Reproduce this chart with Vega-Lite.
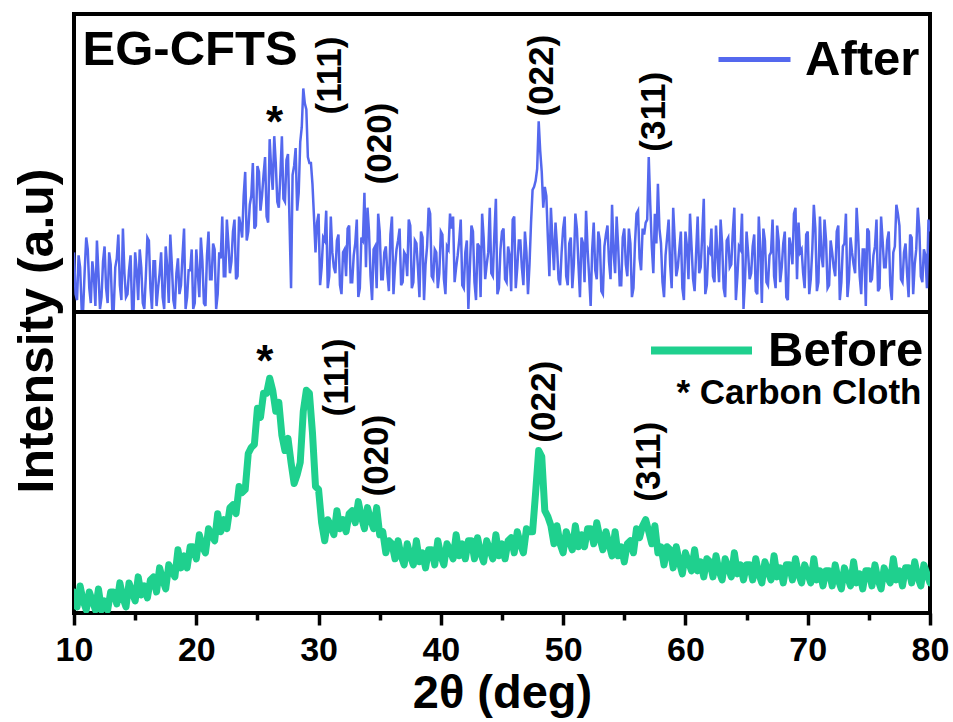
{
"$schema": "https://vega.github.io/schema/vega-lite/v6.json",
"background": "white",
"padding": {"left": 9, "top": 12, "right": 5, "bottom": 2},
"config": {"view": {"stroke": "black", "strokeWidth": 4}, "font": "Liberation Sans", "concat": {"spacing": 0}},
"spacing": 0,
"bounds": "flush",
"datasets": {
"xrd": [
{"t":10,"a":20,"b":7},{"t":10.25,"a":4,"b":2},{"t":10.5,"a":15,"b":9},{"t":10.75,"a":1,"b":4},{"t":11,"a":25,"b":1},{"t":11.25,"a":8,"b":7},{"t":11.5,"a":17,"b":4},{"t":11.75,"a":2,"b":1},{"t":12,"a":13,"b":8},{"t":12.25,"a":5,"b":1},
{"t":12.5,"a":22,"b":4},{"t":12.75,"a":3,"b":1},{"t":13,"a":16,"b":7},{"t":13.25,"a":1,"b":7},{"t":13.5,"a":18,"b":3},{"t":13.75,"a":9,"b":10},{"t":14,"a":28,"b":5},{"t":14.25,"a":5,"b":2},{"t":14.5,"a":14,"b":10},{"t":14.75,"a":1,"b":7},
{"t":15,"a":20,"b":4},{"t":15.25,"a":4,"b":12},{"t":15.5,"a":15,"b":6},{"t":15.75,"a":1,"b":9},{"t":16,"a":25,"b":5},{"t":16.25,"a":8,"b":11},{"t":16.5,"a":17,"b":12},{"t":16.75,"a":2,"b":7},{"t":17,"a":13,"b":15},{"t":17.25,"a":5,"b":11},
{"t":17.5,"a":22,"b":8},{"t":17.75,"a":3,"b":16},{"t":18,"a":16,"b":14},{"t":18.25,"a":1,"b":12},{"t":18.5,"a":18,"b":21},{"t":18.75,"a":9,"b":15},{"t":19,"a":28,"b":19},{"t":19.25,"a":5,"b":15},{"t":19.5,"a":14,"b":22},{"t":19.75,"a":1,"b":22},
{"t":20,"a":21,"b":18},{"t":20.25,"a":5,"b":26},{"t":20.5,"a":17,"b":22},{"t":20.75,"a":2,"b":20},{"t":21,"a":27,"b":28},{"t":21.25,"a":11,"b":26},{"t":21.5,"a":21,"b":24},{"t":21.75,"a":6,"b":33},{"t":22,"a":18,"b":27},{"t":22.25,"a":12,"b":31},
{"t":22.5,"a":31,"b":28},{"t":22.75,"a":13,"b":35},{"t":23,"a":27,"b":36},{"t":23.25,"a":11,"b":33},{"t":23.5,"a":32,"b":42},{"t":23.75,"a":25,"b":40},{"t":24,"a":47,"b":41},{"t":24.25,"a":27,"b":53},{"t":24.5,"a":39,"b":55},{"t":24.75,"a":28,"b":56},
{"t":25,"a":49,"b":68},{"t":25.25,"a":34,"b":65},{"t":25.5,"a":46,"b":73},{"t":25.75,"a":32,"b":73},{"t":26,"a":58,"b":78},{"t":26.25,"a":41,"b":74},{"t":26.5,"a":50,"b":67},{"t":26.75,"a":35,"b":70},{"t":27,"a":59,"b":59},{"t":27.25,"a":37,"b":54},
{"t":27.5,"a":53,"b":58},{"t":27.75,"a":8,"b":50},{"t":28,"a":49,"b":43},{"t":28.25,"a":34,"b":46},{"t":28.5,"a":57,"b":50},{"t":28.75,"a":75,"b":67},{"t":29,"a":68,"b":74},{"t":29.25,"a":50,"b":73},{"t":29.5,"a":43,"b":60},{"t":29.75,"a":20,"b":42},
{"t":30,"a":33,"b":41},{"t":30.25,"a":15,"b":30},{"t":30.5,"a":24,"b":24},{"t":30.75,"a":8,"b":31},{"t":31,"a":32,"b":29},{"t":31.25,"a":15,"b":26},{"t":31.5,"a":24,"b":34},{"t":31.75,"a":9,"b":28},{"t":32,"a":20,"b":31},{"t":32.25,"a":12,"b":27},
{"t":32.5,"a":29,"b":33},{"t":32.75,"a":10,"b":34},{"t":33,"a":23,"b":30},{"t":33.25,"a":5,"b":37},{"t":33.5,"a":25,"b":32},{"t":33.75,"a":40,"b":28},{"t":34,"a":35,"b":35},{"t":34.25,"a":12,"b":31},{"t":34.5,"a":21,"b":28},{"t":34.75,"a":8,"b":35},
{"t":35,"a":27,"b":26},{"t":35.25,"a":11,"b":27},{"t":35.5,"a":22,"b":20},{"t":35.75,"a":7,"b":24},{"t":36,"a":32,"b":23},{"t":36.25,"a":15,"b":18},{"t":36.5,"a":24,"b":24},{"t":36.75,"a":9,"b":19},{"t":37,"a":20,"b":16},{"t":37.25,"a":12,"b":23},
{"t":37.5,"a":29,"b":19},{"t":37.75,"a":10,"b":16},{"t":38,"a":23,"b":24},{"t":38.25,"a":5,"b":17},{"t":38.5,"a":25,"b":20},{"t":38.75,"a":16,"b":15},{"t":39,"a":35,"b":21},{"t":39.25,"a":12,"b":21},{"t":39.5,"a":21,"b":16},{"t":39.75,"a":8,"b":24},
{"t":40,"a":27,"b":19},{"t":40.25,"a":11,"b":16},{"t":40.5,"a":22,"b":23},{"t":40.75,"a":33,"b":21},{"t":41,"a":32,"b":18},{"t":41.25,"a":15,"b":26},{"t":41.5,"a":24,"b":19},{"t":41.75,"a":9,"b":23},{"t":42,"a":20,"b":18},{"t":42.25,"a":1,"b":24},
{"t":42.5,"a":29,"b":24},{"t":42.75,"a":10,"b":18},{"t":43,"a":23,"b":25},{"t":43.25,"a":5,"b":20},{"t":43.5,"a":25,"b":17},{"t":43.75,"a":16,"b":24},{"t":44,"a":35,"b":21},{"t":44.25,"a":12,"b":18},{"t":44.5,"a":38,"b":26},{"t":44.75,"a":8,"b":19},
{"t":45,"a":27,"b":23},{"t":45.25,"a":11,"b":18},{"t":45.5,"a":22,"b":24},{"t":45.75,"a":7,"b":25},{"t":46,"a":32,"b":20},{"t":46.25,"a":15,"b":27},{"t":46.5,"a":24,"b":23},{"t":46.75,"a":9,"b":20},{"t":47,"a":20,"b":28},{"t":47.25,"a":16,"b":27},
{"t":47.5,"a":41,"b":27},{"t":47.75,"a":44,"b":40},{"t":48,"a":64,"b":54},{"t":48.25,"a":47,"b":52},{"t":48.5,"a":42,"b":34},{"t":48.75,"a":25,"b":32},{"t":49,"a":35,"b":29},{"t":49.25,"a":14,"b":23},{"t":49.5,"a":22,"b":29},{"t":49.75,"a":9,"b":23},
{"t":50,"a":28,"b":20},{"t":50.25,"a":12,"b":27},{"t":50.5,"a":23,"b":24},{"t":50.75,"a":8,"b":21},{"t":51,"a":33,"b":29},{"t":51.25,"a":16,"b":22},{"t":51.5,"a":25,"b":26},{"t":51.75,"a":10,"b":22},{"t":52,"a":21,"b":28},{"t":52.25,"a":2,"b":28},
{"t":52.5,"a":30,"b":23},{"t":52.75,"a":11,"b":30},{"t":53,"a":24,"b":25},{"t":53.25,"a":6,"b":21},{"t":53.5,"a":26,"b":27},{"t":53.75,"a":17,"b":23},{"t":54,"a":36,"b":19},{"t":54.25,"a":13,"b":27},{"t":54.5,"a":22,"b":19},{"t":54.75,"a":9,"b":22},
{"t":55,"a":28,"b":17},{"t":55.25,"a":12,"b":23},{"t":55.5,"a":23,"b":24},{"t":55.75,"a":8,"b":20},{"t":56,"a":33,"b":28},{"t":56.25,"a":18,"b":25},{"t":56.5,"a":28,"b":29},{"t":56.75,"a":30,"b":31},{"t":57,"a":52,"b":27},{"t":57.25,"a":22,"b":23},
{"t":57.5,"a":33,"b":29},{"t":57.75,"a":43,"b":20},{"t":58,"a":23,"b":22},{"t":58.25,"a":5,"b":16},{"t":58.5,"a":25,"b":22},{"t":58.75,"a":16,"b":21},{"t":59,"a":35,"b":15},{"t":59.25,"a":12,"b":22},{"t":59.5,"a":21,"b":17},{"t":59.75,"a":8,"b":13},
{"t":60,"a":27,"b":20},{"t":60.25,"a":11,"b":17},{"t":60.5,"a":22,"b":14},{"t":60.75,"a":7,"b":21},{"t":61,"a":32,"b":14},{"t":61.25,"a":15,"b":17},{"t":61.5,"a":38,"b":12},{"t":61.75,"a":9,"b":18},{"t":62,"a":20,"b":17},{"t":62.25,"a":12,"b":12},
{"t":62.5,"a":29,"b":19},{"t":62.75,"a":10,"b":14},{"t":63,"a":23,"b":11},{"t":63.25,"a":5,"b":18},{"t":63.5,"a":25,"b":15},{"t":63.75,"a":16,"b":12},{"t":64,"a":35,"b":20},{"t":64.25,"a":12,"b":13},{"t":64.5,"a":21,"b":16},{"t":64.75,"a":1,"b":11},
{"t":65,"a":27,"b":16},{"t":65.25,"a":11,"b":16},{"t":65.5,"a":22,"b":11},{"t":65.75,"a":7,"b":18},{"t":66,"a":32,"b":13},{"t":66.25,"a":3,"b":10},{"t":66.5,"a":24,"b":17},{"t":66.75,"a":9,"b":14},{"t":67,"a":20,"b":11},{"t":67.25,"a":12,"b":19},
{"t":67.5,"a":29,"b":12},{"t":67.75,"a":10,"b":15},{"t":68,"a":23,"b":10},{"t":68.25,"a":5,"b":16},{"t":68.5,"a":25,"b":16},{"t":68.75,"a":16,"b":11},{"t":69,"a":35,"b":18},{"t":69.25,"a":30,"b":13},{"t":69.5,"a":21,"b":10},{"t":69.75,"a":8,"b":16},
{"t":70,"a":27,"b":13},{"t":70.25,"a":11,"b":10},{"t":70.5,"a":36,"b":18},{"t":70.75,"a":7,"b":11},{"t":71,"a":32,"b":14},{"t":71.25,"a":15,"b":9},{"t":71.5,"a":24,"b":14},{"t":71.75,"a":9,"b":14},{"t":72,"a":20,"b":9},{"t":72.25,"a":12,"b":16},
{"t":72.5,"a":29,"b":11},{"t":72.75,"a":10,"b":8},{"t":73,"a":23,"b":15},{"t":73.25,"a":5,"b":12},{"t":73.5,"a":25,"b":9},{"t":73.75,"a":16,"b":17},{"t":74,"a":35,"b":10},{"t":74.25,"a":12,"b":13},{"t":74.5,"a":21,"b":8},{"t":74.75,"a":2,"b":14},
{"t":75,"a":27,"b":14},{"t":75.25,"a":11,"b":9},{"t":75.5,"a":22,"b":16},{"t":75.75,"a":7,"b":11},{"t":76,"a":32,"b":8},{"t":76.25,"a":15,"b":15},{"t":76.5,"a":24,"b":12},{"t":76.75,"a":9,"b":10},{"t":77,"a":20,"b":18},{"t":77.25,"a":36,"b":11},
{"t":77.5,"a":29,"b":14},{"t":77.75,"a":10,"b":9},{"t":78,"a":23,"b":15},{"t":78.25,"a":5,"b":15},{"t":78.5,"a":25,"b":10},{"t":78.75,"a":16,"b":17},{"t":79,"a":35,"b":12},{"t":79.25,"a":12,"b":9},{"t":79.5,"a":21,"b":16},{"t":79.75,"a":8,"b":13},
{"t":80,"a":27,"b":10},
{"t":10.125,"a":6},{"t":10.375,"a":19},{"t":10.625,"a":1},{"t":10.875,"a":14},{"t":11.125,"a":21},{"t":11.375,"a":3},{"t":11.625,"a":12},{"t":11.875,"a":24},{"t":12.125,"a":1},{"t":12.375,"a":17},
{"t":12.625,"a":8},{"t":12.875,"a":20},{"t":13.125,"a":1},{"t":13.375,"a":15},{"t":13.625,"a":26},{"t":13.875,"a":4},{"t":14.125,"a":13},{"t":14.375,"a":6},{"t":14.625,"a":19},{"t":14.875,"a":1},
{"t":15.125,"a":14},{"t":15.375,"a":21},{"t":15.625,"a":3},{"t":15.875,"a":12},{"t":16.125,"a":24},{"t":16.375,"a":1},{"t":16.625,"a":17},{"t":16.875,"a":8},{"t":17.125,"a":20},{"t":17.375,"a":1},
{"t":17.625,"a":15},{"t":17.875,"a":26},{"t":18.125,"a":4},{"t":18.375,"a":13},{"t":18.625,"a":6},{"t":18.875,"a":19},{"t":19.125,"a":1},{"t":19.375,"a":14},{"t":19.625,"a":21},{"t":19.875,"a":3},
{"t":20.125,"a":13},{"t":20.375,"a":25},{"t":20.625,"a":3},{"t":20.875,"a":19},{"t":21.125,"a":11},{"t":21.375,"a":23},{"t":21.625,"a":1},{"t":21.875,"a":20},{"t":22.125,"a":32},{"t":22.375,"a":12},
{"t":22.625,"a":23},{"t":22.875,"a":17},{"t":23.125,"a":31},{"t":23.375,"a":12},{"t":23.625,"a":29},{"t":23.875,"a":39},{"t":24.125,"a":24},{"t":24.375,"a":36},{"t":24.625,"a":50},{"t":24.875,"a":29},
{"t":25.125,"a":47},{"t":25.375,"a":39},{"t":25.625,"a":52},{"t":25.875,"a":30},{"t":26.125,"a":48},{"t":26.375,"a":59},{"t":26.625,"a":37},{"t":26.875,"a":46},{"t":27.125,"a":38},{"t":27.375,"a":51},
{"t":27.625,"a":30},{"t":27.875,"a":46},{"t":28.125,"a":55},{"t":28.375,"a":40},{"t":28.625,"a":62},{"t":28.875,"a":70},{"t":29.125,"a":52},{"t":29.375,"a":50},{"t":29.625,"a":32},{"t":29.875,"a":30},
{"t":30.125,"a":9},{"t":30.375,"a":25},{"t":30.625,"a":34},{"t":30.875,"a":12},{"t":31.125,"a":20},{"t":31.375,"a":13},{"t":31.625,"a":26},{"t":31.875,"a":6},{"t":32.125,"a":21},{"t":32.375,"a":28},
{"t":32.625,"a":10},{"t":32.875,"a":19},{"t":33.125,"a":31},{"t":33.375,"a":8},{"t":33.625,"a":24},{"t":33.875,"a":15},{"t":34.125,"a":27},{"t":34.375,"a":4},{"t":34.625,"a":22},{"t":34.875,"a":33},
{"t":35.125,"a":11},{"t":35.375,"a":20},{"t":35.625,"a":13},{"t":35.875,"a":26},{"t":36.125,"a":6},{"t":36.375,"a":21},{"t":36.625,"a":28},{"t":36.875,"a":10},{"t":37.125,"a":19},{"t":37.375,"a":31},
{"t":37.625,"a":8},{"t":37.875,"a":24},{"t":38.125,"a":15},{"t":38.375,"a":27},{"t":38.625,"a":4},{"t":38.875,"a":22},{"t":39.125,"a":33},{"t":39.375,"a":11},{"t":39.625,"a":20},{"t":39.875,"a":13},
{"t":40.125,"a":26},{"t":40.375,"a":6},{"t":40.625,"a":21},{"t":40.875,"a":28},{"t":41.125,"a":10},{"t":41.375,"a":19},{"t":41.625,"a":31},{"t":41.875,"a":8},{"t":42.125,"a":24},{"t":42.375,"a":15},
{"t":42.625,"a":27},{"t":42.875,"a":4},{"t":43.125,"a":22},{"t":43.375,"a":33},{"t":43.625,"a":11},{"t":43.875,"a":20},{"t":44.125,"a":13},{"t":44.375,"a":26},{"t":44.625,"a":6},{"t":44.875,"a":21},
{"t":45.125,"a":28},{"t":45.375,"a":10},{"t":45.625,"a":19},{"t":45.875,"a":31},{"t":46.125,"a":8},{"t":46.375,"a":24},{"t":46.625,"a":15},{"t":46.875,"a":27},{"t":47.125,"a":6},{"t":47.375,"a":30},
{"t":47.625,"a":42},{"t":47.875,"a":48},{"t":48.125,"a":54},{"t":48.375,"a":35},{"t":48.625,"a":39},{"t":48.875,"a":12},{"t":49.125,"a":24},{"t":49.375,"a":30},{"t":49.625,"a":11},{"t":49.875,"a":20},
{"t":50.125,"a":32},{"t":50.375,"a":9},{"t":50.625,"a":25},{"t":50.875,"a":16},{"t":51.125,"a":28},{"t":51.375,"a":5},{"t":51.625,"a":23},{"t":51.875,"a":34},{"t":52.125,"a":12},{"t":52.375,"a":21},
{"t":52.625,"a":14},{"t":52.875,"a":27},{"t":53.125,"a":7},{"t":53.375,"a":22},{"t":53.625,"a":29},{"t":53.875,"a":11},{"t":54.125,"a":20},{"t":54.375,"a":32},{"t":54.625,"a":9},{"t":54.875,"a":25},
{"t":55.125,"a":16},{"t":55.375,"a":28},{"t":55.625,"a":5},{"t":55.875,"a":23},{"t":56.125,"a":34},{"t":56.375,"a":14},{"t":56.625,"a":26},{"t":56.875,"a":31},{"t":57.125,"a":36},{"t":57.375,"a":13},
{"t":57.625,"a":23},{"t":57.875,"a":28},{"t":58.125,"a":10},{"t":58.375,"a":19},{"t":58.625,"a":31},{"t":58.875,"a":8},{"t":59.125,"a":24},{"t":59.375,"a":15},{"t":59.625,"a":27},{"t":59.875,"a":4},
{"t":60.125,"a":22},{"t":60.375,"a":33},{"t":60.625,"a":11},{"t":60.875,"a":20},{"t":61.125,"a":13},{"t":61.375,"a":26},{"t":61.625,"a":6},{"t":61.875,"a":21},{"t":62.125,"a":28},{"t":62.375,"a":10},
{"t":62.625,"a":19},{"t":62.875,"a":31},{"t":63.125,"a":8},{"t":63.375,"a":24},{"t":63.625,"a":15},{"t":63.875,"a":27},{"t":64.125,"a":4},{"t":64.375,"a":22},{"t":64.625,"a":33},{"t":64.875,"a":11},
{"t":65.125,"a":20},{"t":65.375,"a":13},{"t":65.625,"a":26},{"t":65.875,"a":6},{"t":66.125,"a":21},{"t":66.375,"a":28},{"t":66.625,"a":10},{"t":66.875,"a":19},{"t":67.125,"a":31},{"t":67.375,"a":8},
{"t":67.625,"a":24},{"t":67.875,"a":15},{"t":68.125,"a":27},{"t":68.375,"a":4},{"t":68.625,"a":22},{"t":68.875,"a":33},{"t":69.125,"a":11},{"t":69.375,"a":20},{"t":69.625,"a":13},{"t":69.875,"a":26},
{"t":70.125,"a":6},{"t":70.375,"a":21},{"t":70.625,"a":28},{"t":70.875,"a":10},{"t":71.125,"a":19},{"t":71.375,"a":31},{"t":71.625,"a":8},{"t":71.875,"a":24},{"t":72.125,"a":15},{"t":72.375,"a":27},
{"t":72.625,"a":4},{"t":72.875,"a":22},{"t":73.125,"a":33},{"t":73.375,"a":11},{"t":73.625,"a":20},{"t":73.875,"a":13},{"t":74.125,"a":26},{"t":74.375,"a":6},{"t":74.625,"a":21},{"t":74.875,"a":28},
{"t":75.125,"a":10},{"t":75.375,"a":19},{"t":75.625,"a":31},{"t":75.875,"a":8},{"t":76.125,"a":24},{"t":76.375,"a":15},{"t":76.625,"a":27},{"t":76.875,"a":4},{"t":77.125,"a":22},{"t":77.375,"a":33},
{"t":77.625,"a":11},{"t":77.875,"a":20},{"t":78.125,"a":13},{"t":78.375,"a":26},{"t":78.625,"a":6},{"t":78.875,"a":21},{"t":79.125,"a":28},{"t":79.375,"a":10},{"t":79.625,"a":19},{"t":79.875,"a":31}
],
"hklAfter": [
{"t":30.9,"v":66.3,"label":"(111)"},{"t":35.0,"v":42.8,"label":"(020)"},{"t":48.3,"v":65.6,"label":"(022)"},{"t":57.4,"v":53.8,"label":"(311)"}
],
"hklBefore": [
{"t":31.5,"v":65.3,"label":"(111)"},{"t":34.8,"v":38.7,"label":"(020)"},{"t":48.4,"v":56.6,"label":"(022)"},{"t":57.0,"v":37,"label":"(311)"}
]
},
"vconcat": [
{
"width": 856, "height": 298,
"layer": [
{"data": {"name": "xrd"},
 "mark": {"type": "line", "strokeWidth": 2.5, "strokeJoin": "miter", "clip": true, "invalid": "filter"},
 "encoding": {
  "x": {"field": "t", "type": "quantitative", "scale": {"domain": [10, 80], "nice": false, "zero": false}, "axis": null},
  "y": {"field": "a", "type": "quantitative", "scale": {"domain": [0, 100], "nice": false}, "axis": null},
  "color": {"datum": "After", "type": "nominal", "scale": {"domain": ["After"], "range": ["#5468EE"]},
   "legend": {"orient": "none", "legendX": 642, "legendY": 7, "title": null, "symbolType": "stroke", "symbolSize": 5184, "symbolStrokeWidth": 5, "labelFontSize": 49, "labelFont": "Liberation Sans", "labelFontWeight": "bold", "labelColor": "black", "labelOffset": 12, "padding": 0, "labelLimit": 400}}
 }},
{"data": {"name": "hklAfter"},
 "mark": {"type": "text", "angle": 270, "align": "left", "baseline": "middle", "fontSize": 35, "fontWeight": "bold", "font": "Liberation Sans", "color": "black"},
 "encoding": {"x": {"field": "t", "type": "quantitative"}, "y": {"field": "v", "type": "quantitative"}, "text": {"field": "label"}}},
{"data": {"values": [{}]},
 "mark": {"type": "text", "text": "*", "align": "center", "baseline": "alphabetic", "fontSize": 44, "fontWeight": "bold", "font": "Liberation Sans", "color": "black"},
 "encoding": {"x": {"datum": 26.4, "type": "quantitative"}, "y": {"datum": 58.6, "type": "quantitative"}}},
{"data": {"values": [{}]},
 "mark": {"type": "text", "text": "EG-CFTS", "align": "left", "baseline": "alphabetic", "fontSize": 49, "fontWeight": "bold", "font": "Liberation Sans", "color": "black"},
 "encoding": {"x": {"datum": 10.7, "type": "quantitative"}, "y": {"datum": 83, "type": "quantitative"}}}
]
},
{
"width": 856, "height": 301,
"layer": [
{"data": {"name": "xrd"},
 "mark": {"type": "line", "strokeWidth": 7, "strokeJoin": "round", "strokeCap": "round", "clip": true, "invalid": "filter"},
 "encoding": {
  "x": {"field": "t", "type": "quantitative", "scale": {"domain": [10, 80], "nice": false, "zero": false},
   "axis": {"values": [10,15,20,25,30,35,40,45,50,55,60,65,70,75,80], "labelExpr": "datum.value % 10 === 0 ? datum.label : ''",
    "tickSize": {"condition": {"test": "datum.value % 10 !== 0", "value": 7}, "value": 12},
    "tickWidth": 3.5, "tickColor": "black", "domain": false, "grid": false, "labelOverlap": false, "labelFlush": false,
    "labelFont": "Liberation Sans", "labelFontWeight": "bold", "labelFontSize": 34, "labelColor": "black", "labelPadding": 8,
    "title": "2θ (deg)", "titleFont": "Liberation Sans", "titleFontWeight": "bold", "titleFontSize": 47, "titleColor": "black", "titlePadding": 3}},
  "y": {"field": "b", "type": "quantitative", "scale": {"domain": [0, 100], "nice": false},
   "axis": {"labels": false, "ticks": false, "domain": false, "grid": false, "title": "Intensity (a.u)", "titleFont": "Liberation Sans", "titleFontWeight": "bold", "titleFontSize": 50, "titleColor": "black", "titleX": -12, "titleY": 18.5, "titleAngle": 270, "titleAlign": "center", "titleBaseline": "bottom"}},
  "color": {"datum": "Before", "type": "nominal", "scale": {"domain": ["Before"], "range": ["#1FD08E"]},
   "legend": {"orient": "none", "legendX": 573, "legendY": -16, "title": null, "symbolType": "stroke", "symbolSize": 10201, "symbolStrokeWidth": 8, "labelFontSize": 49, "labelFont": "Liberation Sans", "labelFontWeight": "bold", "labelColor": "black", "labelOffset": 12, "padding": 0, "labelLimit": 400}}
 }},
{"data": {"name": "hklBefore"},
 "mark": {"type": "text", "angle": 270, "align": "left", "baseline": "middle", "fontSize": 35, "fontWeight": "bold", "font": "Liberation Sans", "color": "black"},
 "encoding": {"x": {"field": "t", "type": "quantitative"}, "y": {"field": "v", "type": "quantitative"}, "text": {"field": "label"}}},
{"data": {"values": [{}]},
 "mark": {"type": "text", "text": "*", "align": "center", "baseline": "alphabetic", "fontSize": 44, "fontWeight": "bold", "font": "Liberation Sans", "color": "black"},
 "encoding": {"x": {"datum": 25.6, "type": "quantitative"}, "y": {"datum": 78.6, "type": "quantitative"}}},
{"data": {"values": [{}]},
 "mark": {"type": "text", "text": "* Carbon Cloth", "align": "right", "baseline": "alphabetic", "fontSize": 35, "fontWeight": "bold", "font": "Liberation Sans", "color": "black"},
 "encoding": {"x": {"datum": 79.3, "type": "quantitative"}, "y": {"datum": 69.3, "type": "quantitative"}}}
]
}
],
"resolve": {"scale": {"color": "independent"}, "legend": {"color": "independent"}}
}
